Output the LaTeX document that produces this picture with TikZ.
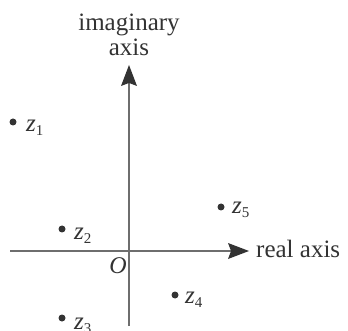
\documentclass[tikz,border=0pt]{standalone}
\usepackage{fontspec}
\setmainfont{Liberation Serif}
\usetikzlibrary{arrows.meta}
\definecolor{axisgray}{HTML}{6E6E6E}
\definecolor{ink}{HTML}{333333}
\newcommand{\zlab}[1]{\textit{z}{\fontsize{15}{15}\selectfont\raisebox{-4pt}{#1}}}
\tikzset{
  axisline/.style={draw=axisgray, line width=2pt, -{Stealth[length=21pt,width=16pt,inset=3pt,color=ink,fill=ink,line width=0pt]}},
  pt/.style={circle, fill=ink, draw=none, minimum size=7pt, inner sep=0pt},
  lbl/.style={text=ink, inner sep=0pt, font=\fontsize{25}{28}\selectfont, anchor=base west},
  ttl/.style={text=ink, inner sep=0pt, font=\fontsize{25}{28}\selectfont},
}
\begin{document}
\begin{tikzpicture}[x=1pt,y=-1pt]
\useasboundingbox (0,0) rectangle (348,331);
\coordinate (xs) at (10,251);
\coordinate (xe) at (249,251);
\coordinate (ys) at (129,326);
\coordinate (ye) at (129,65);
\draw[axisline] (xs) -- (xe);
\draw[axisline] (ys) -- (ye);
\node[ttl, anchor=base] (im) at (129,31) {imaginary};
\node[ttl, anchor=base] (ax) at (129,56) {axis};
\node[lbl] (re) at (256,258) {real axis};
\node[ttl, font=\fontsize{24}{28}\selectfont\itshape] (O) at (118,265.5) {O};
\node[pt] (z1) at (13,122) {};
\node[pt] (z2) at (62,229) {};
\node[pt] (z3) at (62,318) {};
\node[pt] (z4) at (175,295) {};
\node[pt] (z5) at (221,207) {};
\node[lbl] (l1) at ([xshift=13pt,yshift=-10pt]z1.center) {\zlab{1}};
\node[lbl] (l2) at ([xshift=12pt,yshift=-11pt]z2.center) {\zlab{2}};
\node[lbl] (l3) at ([xshift=12pt,yshift=-11pt]z3.center) {\zlab{3}};
\node[lbl] (l4) at ([xshift=10pt,yshift=-8pt]z4.center) {\zlab{4}};
\node[lbl] (l5) at ([xshift=11pt,yshift=-7pt]z5.center) {\zlab{5}};
\end{tikzpicture}
\end{document}
